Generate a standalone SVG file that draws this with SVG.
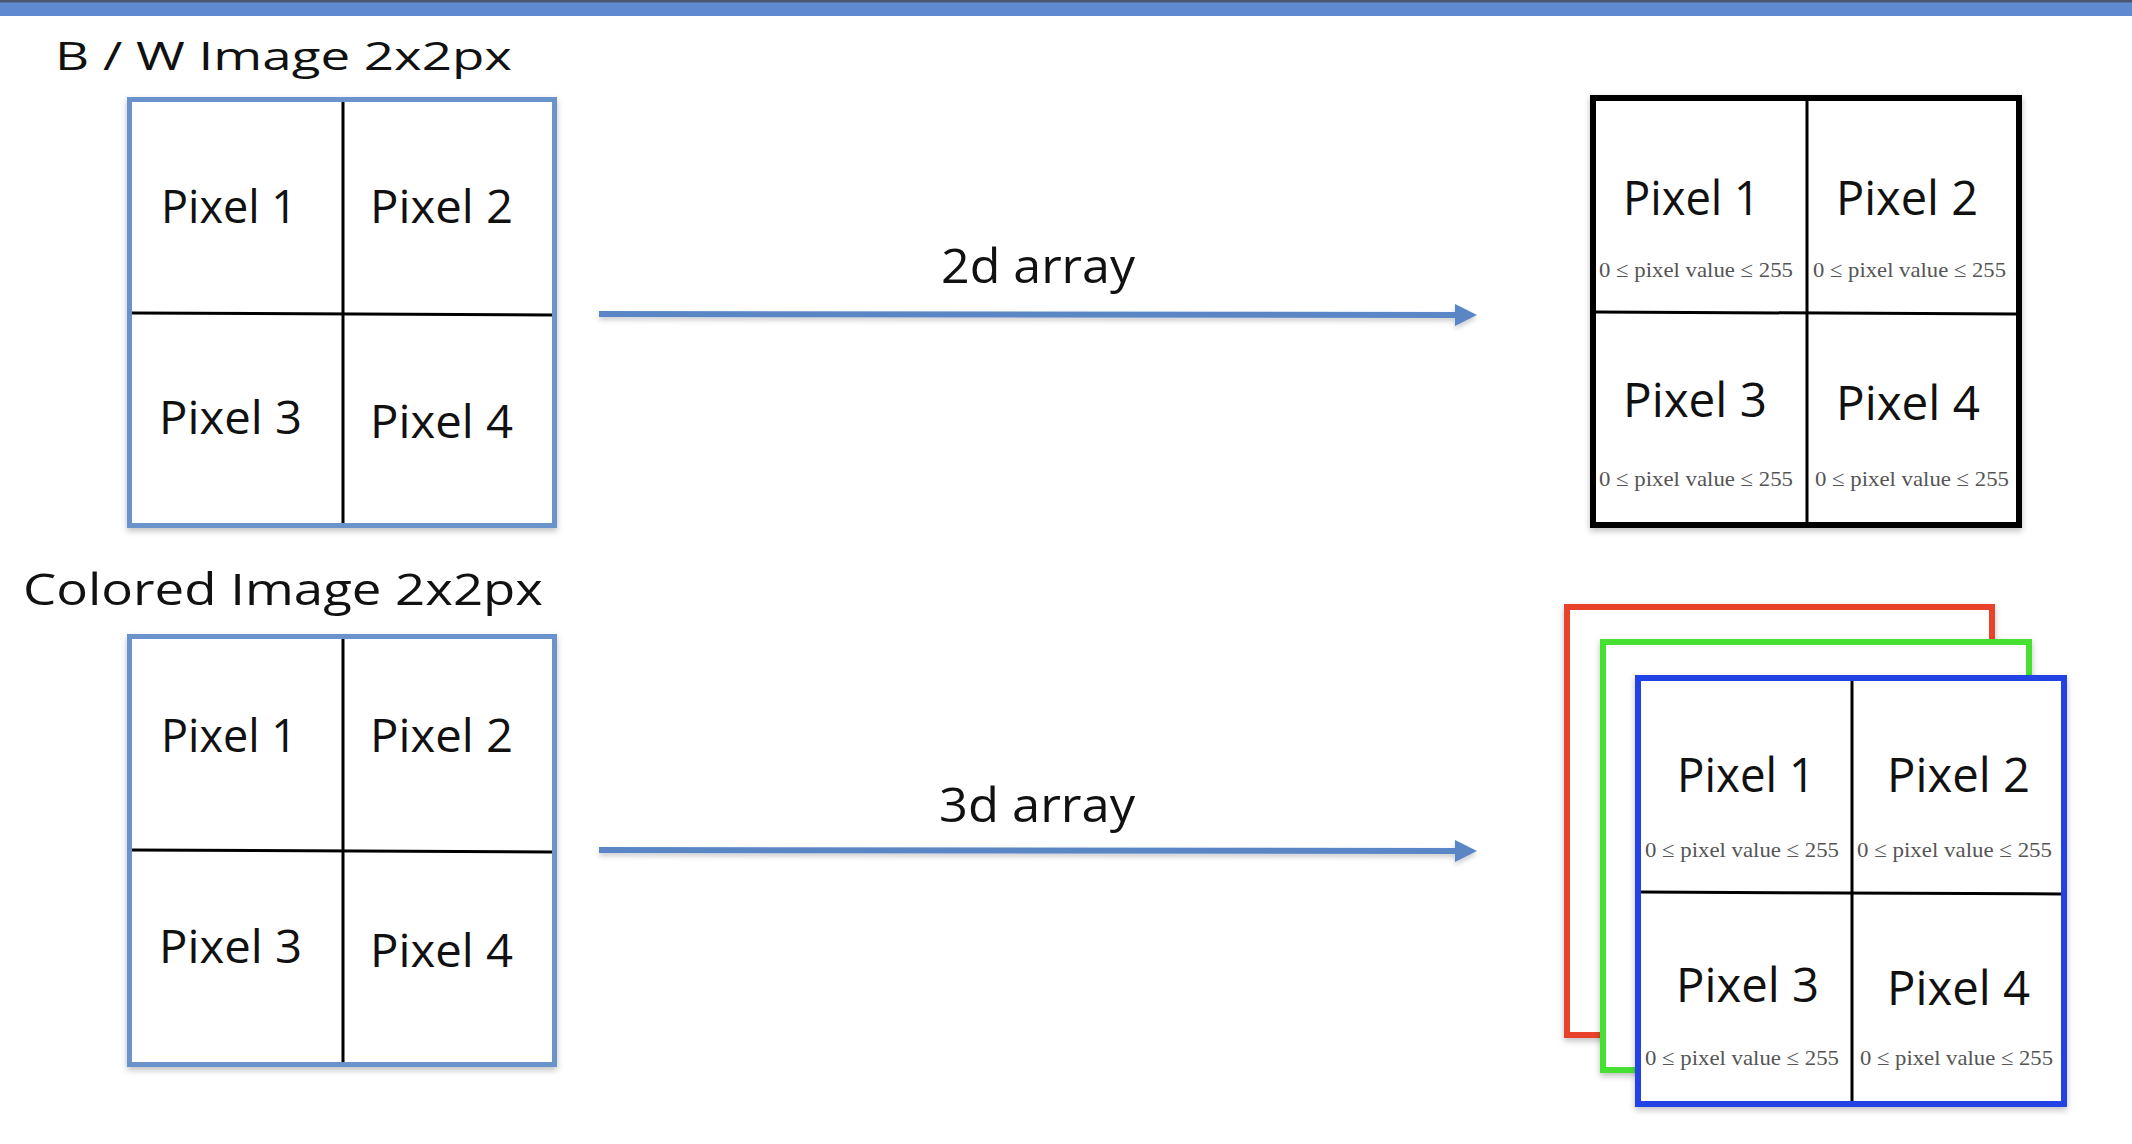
<svg xmlns="http://www.w3.org/2000/svg" width="2132" height="1144" viewBox="0 0 2132 1144">
<style>
.sans{font-family:"Open Sans","Noto Sans","Liberation Sans",sans-serif;fill:#111;}
.px{font-size:45px;}
.pxl{font-size:48px;}
.val{font-family:"Liberation Serif","DejaVu Serif",serif;font-size:22px;fill:#555;}
.bluebox{fill:#fff;stroke:#6b93cc;stroke-width:5;}
.div{stroke:#000;stroke-width:3;}
.conn{stroke:#5a86c6;stroke-width:6;fill:none;}
</style>
<defs>
<filter id="sh" x="-5%" y="-5%" width="110%" height="112%">
<feDropShadow dx="0" dy="3" stdDeviation="3" flood-color="#000" flood-opacity="0.25"/>
</filter>
<filter id="shc" filterUnits="userSpaceOnUse" x="0" y="0" width="2132" height="1144">
<feDropShadow dx="0" dy="3" stdDeviation="2.5" flood-color="#000" flood-opacity="0.2"/>
</filter>
<marker id="ah" markerUnits="userSpaceOnUse" markerWidth="22" markerHeight="22" refX="5" refY="11" orient="auto">
<path d="M0,0 L22,11 L0,22 z" fill="#5a86c6"/>
</marker>
</defs>
<rect x="0" y="0" width="2132" height="1144" fill="#fff"/>
<rect x="0" y="0" width="2132" height="16" fill="#5f8ad2"/>
<rect x="0" y="0" width="2132" height="2.5" fill="#4a5670"/>

<g id="title-bw">
<text class="sans" x="55" y="70" font-size="39" textLength="457" lengthAdjust="spacingAndGlyphs">B / W Image 2x2px</text>
</g>
<g id="title-colored">
<text class="sans" x="23" y="605" font-size="44" textLength="520" lengthAdjust="spacingAndGlyphs">Colored Image 2x2px</text>
</g>

<g id="bw-image">
<rect class="bluebox" x="129.5" y="99.5" width="425" height="426" filter="url(#sh)"/>
<line class="div" x1="343" y1="102" x2="343" y2="523"/>
<line class="div" x1="132" y1="313" x2="552" y2="315"/>
<text class="sans px" x="161" y="223" textLength="136" lengthAdjust="spacingAndGlyphs">Pixel 1</text>
<text class="sans px" x="370" y="223" textLength="143" lengthAdjust="spacingAndGlyphs">Pixel 2</text>
<text class="sans px" x="159" y="434" textLength="143" lengthAdjust="spacingAndGlyphs">Pixel 3</text>
<text class="sans px" x="370" y="438" textLength="143" lengthAdjust="spacingAndGlyphs">Pixel 4</text>
</g>

<g id="colored-image">
<rect class="bluebox" x="129.5" y="636.5" width="425" height="428" filter="url(#sh)"/>
<line class="div" x1="343" y1="639" x2="343" y2="1062"/>
<line class="div" x1="132" y1="850" x2="552" y2="852"/>
<text class="sans px" x="161" y="752" textLength="136" lengthAdjust="spacingAndGlyphs">Pixel 1</text>
<text class="sans px" x="370" y="752" textLength="143" lengthAdjust="spacingAndGlyphs">Pixel 2</text>
<text class="sans px" x="159" y="963" textLength="143" lengthAdjust="spacingAndGlyphs">Pixel 3</text>
<text class="sans px" x="370" y="967" textLength="143" lengthAdjust="spacingAndGlyphs">Pixel 4</text>
</g>

<g id="array-2d">
<rect x="1593" y="98" width="426" height="427" fill="#fff" stroke="#000" stroke-width="6" filter="url(#sh)"/>
<line class="div" x1="1807" y1="101" x2="1807" y2="522"/>
<line class="div" x1="1596" y1="312" x2="2016" y2="314"/>
<text class="sans pxl" x="1623" y="215" textLength="137" lengthAdjust="spacingAndGlyphs">Pixel 1</text>
<text class="sans pxl" x="1836" y="215" textLength="142" lengthAdjust="spacingAndGlyphs">Pixel 2</text>
<text class="sans pxl" x="1623" y="417" textLength="144" lengthAdjust="spacingAndGlyphs">Pixel 3</text>
<text class="sans pxl" x="1836" y="420" textLength="144" lengthAdjust="spacingAndGlyphs">Pixel 4</text>
<text class="val" x="1599" y="277" textLength="194" lengthAdjust="spacingAndGlyphs">0 ≤ pixel value ≤ 255</text>
<text class="val" x="1813" y="277" textLength="193" lengthAdjust="spacingAndGlyphs">0 ≤ pixel value ≤ 255</text>
<text class="val" x="1599" y="486" textLength="194" lengthAdjust="spacingAndGlyphs">0 ≤ pixel value ≤ 255</text>
<text class="val" x="1815" y="486" textLength="194" lengthAdjust="spacingAndGlyphs">0 ≤ pixel value ≤ 255</text>
</g>

<g id="array-3d">
<rect id="channel-red" x="1567" y="607" width="425" height="428" fill="#fff" stroke="#e8432a" stroke-width="6" filter="url(#sh)"/>
<rect id="channel-green" x="1603" y="642" width="426" height="428" fill="#fff" stroke="#45e033" stroke-width="6" filter="url(#sh)"/>
<rect id="channel-blue" x="1638" y="678" width="426" height="426" fill="#fff" stroke="#2143e6" stroke-width="6" filter="url(#sh)"/>
<line class="div" x1="1852" y1="681" x2="1852" y2="1101"/>
<line class="div" x1="1641" y1="892" x2="2061" y2="894"/>
<text class="sans pxl" x="1677" y="792" textLength="138" lengthAdjust="spacingAndGlyphs">Pixel 1</text>
<text class="sans pxl" x="1887" y="792" textLength="143" lengthAdjust="spacingAndGlyphs">Pixel 2</text>
<text class="sans pxl" x="1676" y="1002" textLength="143" lengthAdjust="spacingAndGlyphs">Pixel 3</text>
<text class="sans pxl" x="1887" y="1005" textLength="143" lengthAdjust="spacingAndGlyphs">Pixel 4</text>
<text class="val" x="1645" y="857" textLength="194" lengthAdjust="spacingAndGlyphs">0 ≤ pixel value ≤ 255</text>
<text class="val" x="1857" y="857" textLength="195" lengthAdjust="spacingAndGlyphs">0 ≤ pixel value ≤ 255</text>
<text class="val" x="1645" y="1065" textLength="194" lengthAdjust="spacingAndGlyphs">0 ≤ pixel value ≤ 255</text>
<text class="val" x="1860" y="1065" textLength="193" lengthAdjust="spacingAndGlyphs">0 ≤ pixel value ≤ 255</text>
</g>

<g id="connectors">
<line class="conn" x1="599" y1="314" x2="1460" y2="315" marker-end="url(#ah)" filter="url(#shc)"/>
<text class="sans" x="941" y="283" font-size="48" textLength="194" lengthAdjust="spacingAndGlyphs">2d array</text>
<line class="conn" x1="599" y1="850" x2="1460" y2="851" marker-end="url(#ah)" filter="url(#shc)"/>
<text class="sans" x="939" y="822" font-size="48" textLength="196" lengthAdjust="spacingAndGlyphs">3d array</text>
</g>
</svg>
